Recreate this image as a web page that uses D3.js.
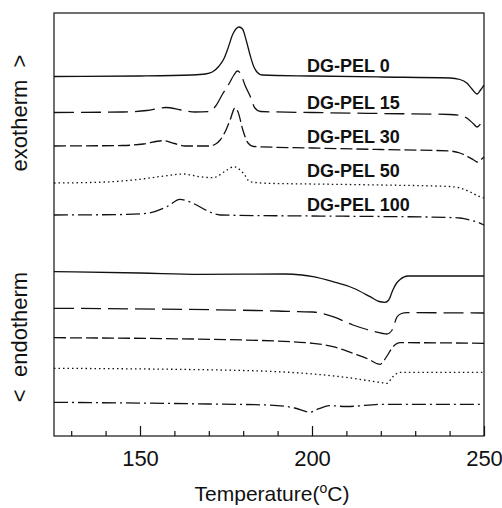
<!DOCTYPE html>
<html>
<head>
<meta charset="utf-8">
<script src="https://cdn.jsdelivr.net/npm/d3@7"></script>
<style>
  body { margin: 0; background: #fff; }
  svg { font-family: "Liberation Sans", Arial, sans-serif; }
</style>
</head>
<body>
<div id="chart"></div>
<script>
// DSC traces, temperature (C) vs heat flow (arbitrary units, offset per trace)
const exoPel0 = [[125, 359.5], [150, 360], [165, 361], [169, 362], [171, 364], [173, 370], [174.5, 378], [175.5, 387], [177, 402], [178, 407.5], [178.8, 409], [179.8, 407], [181, 394], [182, 381], [183, 370], [184, 364], [185.5, 361], [200, 360], [220, 359], [240, 358], [243, 356.5], [245, 353], [246.5, 347], [248, 342], [249, 346], [250, 351]]
const exoPel15 = [[125, 323.5], [145, 324], [152, 325.5], [157.5, 328.5], [162, 326], [166, 324], [170, 324.5], [172, 330], [174, 342], [176, 353], [177.3, 361], [178.3, 365], [179.3, 362], [180.5, 351], [182, 340], [183.4, 328], [185, 324.5], [200, 323.5], [220, 322.5], [240, 321.5], [243, 320.5], [245, 318], [247, 312], [248, 309], [249, 312], [250, 317]]
const exoPel30 = [[125, 290], [145, 290.5], [151, 292], [156.7, 295.3], [160, 292.5], [163, 290], [170, 290], [172, 292], [173.3, 296], [175, 306], [176.2, 316], [177.6, 328], [178.5, 324], [179.9, 306], [181.4, 293], [183, 289.5], [200, 288], [220, 286.5], [240, 285], [243, 283], [245, 280], [247, 276], [248, 274], [249, 276], [250, 279]]
const exoPel50 = [[125, 253], [140, 254], [148, 256], [157.8, 260.3], [162.5, 262], [167.4, 259.3], [171.2, 258.3], [175.3, 266], [177.3, 269.3], [180, 263], [182, 254.3], [187, 252.7], [200, 252], [220, 251], [240, 249.5], [243, 248], [246, 244], [248, 240.5], [250, 238]]
const exoPel100 = [[125, 221], [145, 221.5], [152, 222.7], [157.8, 229.3], [161.6, 236.7], [165.4, 232.7], [169.5, 225.3], [173.3, 221], [200, 220], [220, 219.5], [240, 218.5], [243, 218], [246, 216], [248, 214], [250, 211]]

const endoPel0 = [[125, 164.3], [150, 163], [167.4, 161.7], [192, 162], [197, 161], [200.3, 159.3], [206.1, 154.3], [211.9, 148], [216.9, 139.3], [219.5, 134.5], [221.2, 133.7], [222.3, 136], [223.5, 146], [224.6, 153], [225.6, 156.5], [227.9, 160], [250, 160]]
const endoPel15 = [[125, 127.7], [190, 125], [196, 124.3], [200.3, 124], [206.1, 119.3], [211.9, 111], [216, 106.5], [220.6, 102.5], [221.7, 102], [223.3, 106], [224.7, 119], [226, 122.5], [227.6, 123.3], [250, 123]]
const endoPel30 = [[125, 98.3], [180, 96], [200.3, 92.7], [206.1, 89.3], [211.9, 82.7], [216.9, 76], [218.8, 72.5], [219.8, 71.7], [220.8, 75], [221.8, 80], [223.5, 89], [225.6, 93.3], [250, 92.7]]
const endoPel50 = [[125, 67.7], [180, 65.5], [200.3, 62], [211.9, 57.7], [217, 55], [220, 53.5], [221.8, 52.7], [223.5, 59.3], [225.6, 63.7], [250, 63.7]]
const endoPel100 = [[125, 33.7], [170, 32], [187, 31], [195, 28], [199.5, 23.7], [201, 26], [202.3, 27.7], [205, 30.3], [210, 29.5], [220.6, 31.7], [250, 31.7]]

const sampleNames = ['DG-PEL 0', 'DG-PEL 15', 'DG-PEL 30', 'DG-PEL 50', 'DG-PEL 100']
const majorTicks = [150, 200, 250]
const minorTicks = [130, 140, 160, 170, 180, 190, 210, 220, 230, 240]

const W = 502
const H = 508
const margin = { top: 13, right: 18, bottom: 72, left: 54 }

const dashes = ['none', '20,7', '12,4', '1.5,3', '14,4,2,4']
const labelY = [72, 109, 143, 177, 211]

const svg = d3.select('#chart')
  .append('svg')
  .attr('width', W)
  .attr('height', H)

const x = d3.scaleLinear().domain([125, 250]).range([margin.left, W - margin.right])
const y = d3.scaleLinear().domain([0, 423]).range([H - margin.bottom, margin.top])

const line = d3.line()
  .x(d => x(d[0]))
  .y(d => y(d[1]))
  .curve(d3.curveMonotoneX)

const traces = [
  [exoPel0, 0], [exoPel15, 1], [exoPel30, 2], [exoPel50, 3], [exoPel100, 4],
  [endoPel0, 0], [endoPel15, 1], [endoPel30, 2], [endoPel50, 3], [endoPel100, 4]
]

svg.append('g')
  .selectAll('path')
  .data(traces)
  .enter().append('path')
  .attr('d', d => line(d[0]))
  .attr('fill', 'none')
  .attr('stroke', '#111')
  .attr('stroke-width', 1.3)
  .attr('stroke-dasharray', d => dashes[d[1]])

// frame
svg.append('rect')
  .attr('x', margin.left)
  .attr('y', margin.top)
  .attr('width', W - margin.right - margin.left)
  .attr('height', H - margin.bottom - margin.top)
  .attr('fill', 'none')
  .attr('stroke', '#111')
  .attr('stroke-width', 1.2)

const bottom = H - margin.bottom

svg.append('g')
  .attr('transform', 'translate(0,' + bottom + ')')
  .call(d3.axisBottom(x).tickValues(minorTicks).tickSize(-5).tickFormat(''))
  .call(g => g.select('.domain').remove())
  .call(g => g.selectAll('line').attr('stroke', '#111').attr('stroke-width', 1.2))

svg.append('g')
  .attr('transform', 'translate(0,' + bottom + ')')
  .call(d3.axisBottom(x).tickValues(majorTicks).tickSize(-10).tickPadding(14).tickFormat(d3.format('d')))
  .call(g => g.select('.domain').remove())
  .call(g => g.selectAll('line').attr('stroke', '#111').attr('stroke-width', 1.2))
  .call(g => g.selectAll('text').attr('font-size', 22).attr('fill', '#111').attr('font-family', '"Liberation Sans", Arial, sans-serif'))

// sample labels
svg.append('g')
  .selectAll('text')
  .data(sampleNames)
  .enter().append('text')
  .attr('x', 307)
  .attr('y', (d, i) => labelY[i])
  .attr('font-size', 18)
  .attr('font-weight', 'bold')
  .attr('fill', '#111')
  .text(d => d)

// axis titles
const title = svg.append('text')
  .attr('x', 272)
  .attr('y', 501)
  .attr('text-anchor', 'middle')
  .attr('font-size', 21)
  .attr('fill', '#111')
title.append('tspan').text('Temperature(')
title.append('tspan').attr('font-size', 14).attr('dy', -8).text('o')
title.append('tspan').attr('dy', 8).text('C)')

svg.append('text')
  .attr('transform', 'translate(27,113) rotate(-90)')
  .attr('text-anchor', 'middle')
  .attr('font-size', 22)
  .attr('fill', '#111')
  .style('white-space', 'pre')
  .text('exotherm  >')

svg.append('text')
  .attr('transform', 'translate(27,337) rotate(-90)')
  .attr('text-anchor', 'middle')
  .attr('font-size', 22)
  .attr('fill', '#111')
  .style('white-space', 'pre')
  .text('<  endotherm')
</script>
</body>
</html>
